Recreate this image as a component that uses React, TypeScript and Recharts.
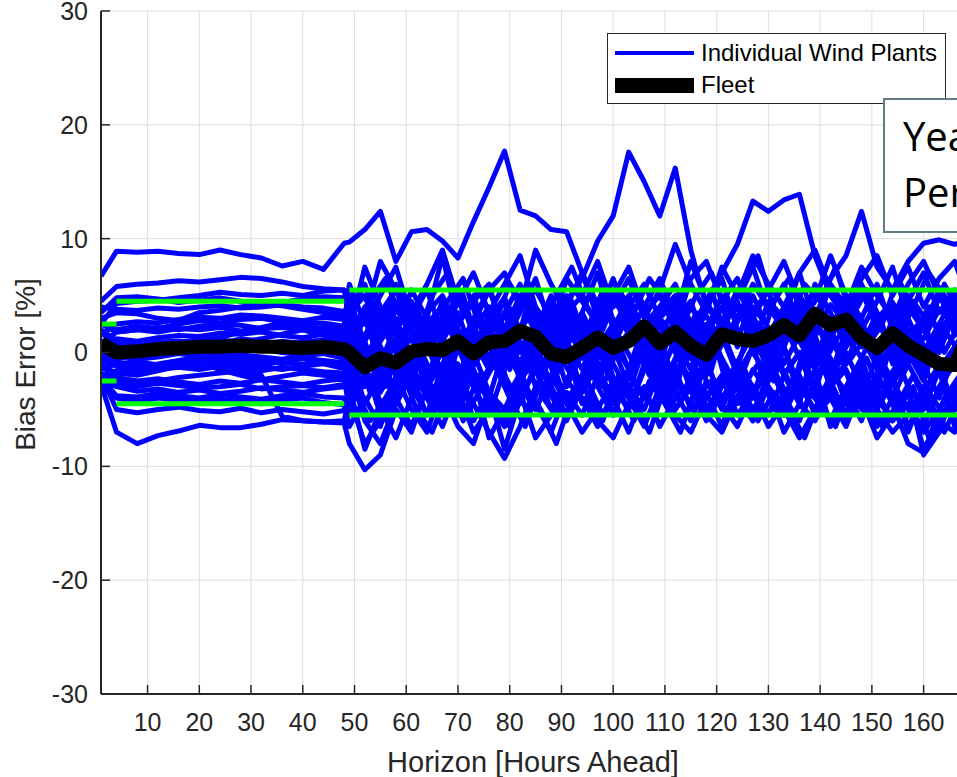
import { LineChart, Line, XAxis, YAxis, CartesianGrid, ReferenceLine, Legend, Label } from "recharts";

// Forecast horizons: 4-hourly over the day-ahead window, 3-hourly after that
const dayAheadHours = [1, 4, 8, 12, 16, 20, 24, 28, 32, 36, 40, 44, 48];
const intradayHours = [
  49, 52, 55, 58, 61, 64, 67, 70, 73, 76,
  79, 82, 85, 88, 91, 94, 97, 100, 103, 106,
  109, 112, 115, 118, 121, 124, 127, 130, 133, 136,
  139, 142, 145, 148, 151, 154, 157, 160, 163, 166, 168,
];
// some plants report on an offset intraday schedule
const intradayHoursOffset = [
  49, 50, 53, 56, 59, 62, 65, 68, 71, 74,
  77, 80, 83, 86, 89, 92, 95, 98, 101, 104,
  107, 110, 113, 116, 119, 122, 125, 128, 131, 134,
  137, 140, 143, 146, 149, 152, 155, 158, 161, 164,
  167, 168,
];
const hours = [...dayAheadHours, ...intradayHours];
const hoursOffset = [...dayAheadHours, ...intradayHoursOffset];

// Bias error (%) per wind plant, one row per plant: day-ahead values then intraday values
const plantBias: number[][] = [
  [6.7, 8.9, 8.8, 8.9, 8.7, 8.6, 9.0, 8.6, 8.3, 7.6, 8.0, 7.3, 9.6,
    9.7, 10.8, 12.4, 8.0, 10.6, 10.8, 9.8, 8.3, 11.5, 14.5, 17.7, 12.5, 12.0, 10.8, 10.6, 7.0, 4.2, 2.5, 3.8, 1.5,
    3.0, 4.5, 2.0, 3.2, 1.0, 2.8, 4.0, 2.2, 0.5, 3.6, 1.8, 4.2, 2.6, 0.8, 3.0, 4.4, 2.0, 1.2, 3.8, 2.4, 3.0],
  [-1.5, -0.5, -0.2, 0.1, 0.3, 0.2, 0.4, 0.5, 0.3, 0.6, 0.4, 0.2, 0.0,
    1.5, -2.0, 3.0, 0.5, -1.5, 2.5, 4.0, 1.0, -0.5, 3.5, 2.0, 5.0, 3.0, 1.0, 4.5, 6.5, 9.8, 12.0, 17.6, 15.0,
    12.0, 16.2, 9.0, 4.0, 2.5, 5.5, 3.0, 1.5, 4.0, 2.0, -1.0, 3.0, 1.5, -0.5, 2.5, 4.0, 1.0, -2.0, 2.0, 3.5, 1.0],
  [4.5, 5.8, 6.0, 6.1, 6.3, 6.2, 6.4, 6.6, 6.5, 6.2, 5.8, 5.6, 5.5,
    3.0, 6.0, 2.0, 4.5, 1.0, 3.5, 5.0, 2.0, 0.5, 3.0, 4.8, 2.0, 1.0, 4.0, 2.5, -0.5, 2.0, 4.5, 3.0, 1.0,
    3.5, 5.0, 2.0, 4.5, 7.0, 9.5, 13.3, 12.4, 13.4, 13.9, 8.5, 5.0, 3.0, 5.5, 2.0, 4.0, 1.5, 3.0, 5.0, 2.5, 3.0],
  [2.5, 4.3, 4.5, 4.6, 4.8, 5.0, 5.3, 5.1, 5.0, 5.2, 5.0, 5.4, 5.5,
    4.0, 1.0, 3.5, 5.5, 2.0, 0.0, 3.0, 4.5, 2.5, -1.0, 2.0, 4.0, 5.5, 3.0, 1.0, 3.5, 0.5, 2.5, 4.0, 6.0,
    3.0, 1.5, 4.0, 2.0, 5.0, 3.0, 6.0, 4.0, 2.0, 5.0, 3.0, 6.5, 8.5, 12.4, 7.5, 5.5, 8.0, 9.6, 9.9, 9.5, 9.8],
  [-2.8, -7.0, -8.0, -7.3, -6.9, -6.4, -6.6, -6.6, -6.3, -5.9, -6.0, -6.1, -6.2,
    -8.0, -10.3, -9.0, -5.0, -7.0, -3.0, -5.5, -2.0, -4.5, -7.0, -9.3, -6.5, -3.0, -5.0, -2.5, -4.0, -6.5, -3.5, -1.5, -4.0,
    -2.0, -5.0, -3.0, -6.0, -2.5, -4.5, -1.5, -3.5, -5.5, -2.5, -4.0, -6.0, -3.0, -5.0, -2.0, -4.5, -8.0, -8.8, -6.0, -3.5, -5.0],
  [-1.0, -2.5, -2.8, -2.5, -2.2, -2.0, -1.8, -1.6, -2.0, -5.6, -6.0, -6.1, -6.0,
    -4.0, -8.0, -6.0, -3.5, -1.0, -4.0, -6.5, -3.0, 0.0, -3.5, -5.0, -2.0, 1.0, -3.0, -5.5, -2.0, 0.5, -3.0, -5.0, -1.5,
    1.0, -2.5, -4.5, -1.0, 1.5, -2.0, -4.0, -1.0, 0.5, -3.0, -5.0, -2.0, 0.0, -3.0, -6.5, -4.0, -1.0, -3.5, -6.5, -4.0, -2.0],
  [4.0, 3.8, 3.7, 3.9, 3.8, 4.0, 4.1, 3.9, 4.0, 4.2, 4.0, 3.9, 3.6,
    2.0, 7.5, 4.0, 1.5, 5.5, 3.0, 8.5, 2.5, 4.5, 6.0, 1.0, 3.5, 6.5, 2.0, 4.0, 7.0, 3.0, 5.5, 1.5, 4.0,
    6.5, 3.0, 8.0, 4.5, 2.0, 5.0, 7.5, 3.5, 6.0, 2.5, 4.5, 8.5, 5.0, 3.0, 6.0, 2.0, 4.5, 7.0, 3.5, 5.5, 4.0],
  [1.5, 2.5, 2.7, 2.6, 2.9, 3.1, 3.0, 3.3, 3.2, 3.0, 2.8, 3.1, 2.9,
    0.5, 3.0, -1.0, 2.5, 4.5, 0.0, 2.0, 5.5, 1.5, -0.5, 3.5, 6.0, 2.0, 0.5, 4.0, 1.5, 3.0, 6.5, 2.5, 0.0,
    3.5, 5.0, 1.0, 4.0, 6.5, 2.0, 0.5, 4.5, 3.0, 7.0, 2.5, 1.0, 4.5, 6.0, 3.0, 0.5, 4.0, 2.0, 5.5, 1.5, 3.0],
  [2.5, 1.8, 2.0, 2.2, 2.0, 2.3, 2.5, 2.4, 2.1, 2.2, 2.0, 1.8, 1.5,
    3.5, 5.0, 1.0, 3.0, -0.5, 2.5, 4.0, 0.0, 3.0, 5.5, 2.0, -1.0, 2.5, 4.5, 0.5, 3.0, -0.5, 2.0, 5.0, 1.5,
    -1.0, 3.0, 4.5, 0.5, 2.0, -1.5, 3.5, 5.5, 1.0, 3.0, -0.5, 2.5, 4.0, 1.5, -1.0, 3.0, 5.0, 2.0, 0.0, 3.5, 2.5],
  [0.5, 1.2, 1.0, 1.3, 1.5, 1.4, 1.7, 1.6, 1.8, 1.5, 1.3, 1.6, 1.2,
    -1.0, 1.5, 4.0, 0.0, 2.0, -2.0, 1.0, 3.5, -0.5, 2.0, 4.5, 0.5, -1.5, 2.5, 5.0, 1.0, -2.0, 1.5, 3.0, -0.5,
    2.5, 0.0, -2.5, 1.5, 4.0, 0.5, 2.5, -1.0, 1.5, 4.5, 0.0, -2.0, 2.0, 0.5, 3.5, -1.0, 1.0, 3.0, -1.5, 0.5, 2.0],
  [1.0, 0.8, 0.6, 0.9, 1.0, 0.8, 1.1, 0.9, 0.7, 1.0, 0.8, 0.6, 0.9,
    2.5, -0.5, 2.0, 6.0, 3.0, 0.5, -2.0, 2.5, 5.0, 1.0, -1.0, 2.0, 4.0, -0.5, 1.5, 3.5, 7.0, 2.0, -1.5, 1.0,
    4.0, 6.0, 2.5, -0.5, 3.0, 1.0, 5.0, 2.0, -1.0, 1.5, 6.0, 3.5, 0.5, 2.0, 4.5, 7.5, 3.0, 0.0, 2.5, 5.0, 1.5],
  [-0.5, 0.0, -0.3, -0.1, 0.2, 0.0, -0.2, 0.1, 0.3, 0.0, -0.2, 0.1, -0.3,
    -2.5, 0.5, -3.0, -1.0, 1.5, -2.0, 0.0, -3.5, 1.0, -1.5, 2.0, -2.5, -0.5, 1.5, -3.0, 0.0, 2.5, -1.0, -3.5, 0.5,
    -2.0, 1.0, -1.5, 2.5, -0.5, -3.0, 0.5, 2.0, -2.0, 0.0, -3.5, 1.0, -1.0, 2.5, -0.5, -2.5, 1.5, -1.0, -4.0, 0.0, -2.0],
  [-1.5, -1.0, -0.8, -1.1, -0.9, -0.6, -0.8, -0.5, -0.7, -0.9, -1.0, -0.8, -1.2,
    0.0, -4.5, -2.0, 1.0, -3.0, -5.5, -1.0, 1.5, -2.5, -4.0, 0.5, -1.5, -5.0, -2.0, 1.0, -3.5, -1.0, -5.5, -2.0, 0.5,
    -4.0, -2.5, 0.0, -5.0, -3.0, -1.0, -6.0, -2.5, 0.5, -4.0, -1.5, -6.5, -3.0, -0.5, -4.5, -2.0, -7.0, -3.5, -1.0, -5.0, -3.0],
  [-2.0, -1.6, -1.8, -1.5, -1.3, -1.5, -1.2, -1.4, -1.6, -1.3, -1.5, -1.7, -1.8,
    -3.5, -1.0, -5.5, -3.0, 0.0, -2.5, -4.5, -1.0, -6.0, -3.5, -8.5, -4.0, -1.5, -5.0, -2.5, 0.5, -3.0, -5.5, -2.0, -4.0,
    -0.5, -3.5, -6.0, -2.5, -4.5, -1.0, -3.0, -5.5, -2.0, 0.0, -4.0, -2.5, -5.5, -1.5, -3.5, -6.0, -3.0, -5.0, -1.5, -6.5, -4.0],
  [-1.0, -2.2, -2.5, -2.3, -2.6, -2.8, -2.5, -2.7, -2.4, -2.6, -2.8, -2.5, -2.3,
    -5.0, -2.0, 0.5, -4.0, -6.5, -3.0, -1.0, -4.5, -2.0, -7.5, -5.0, -2.5, 0.0, -3.5, -6.0, -3.0, -1.5, -4.0, -7.0, -3.5,
    -1.0, -5.0, -3.0, -0.5, -4.5, -6.5, -3.5, -1.0, -4.0, -6.0, -2.5, -0.5, -4.5, -2.0, -5.0, -2.5, -6.5, -4.0, -7.0, -3.0, -5.5],
  [-2.5, -3.0, -3.4, -3.2, -3.5, -3.3, -3.6, -3.4, -3.1, -3.3, -3.5, -3.2, -3.0,
    -1.5, -6.0, -8.0, -4.5, -2.0, -5.5, -3.5, -6.5, -8.0, -4.0, -6.0, -2.5, -4.5, -7.0, -3.5, -5.5, -2.0, -4.5, -3.0, -6.0,
    -4.0, -1.5, -5.0, -3.5, -6.5, -2.5, -5.0, -3.0, -7.0, -4.5, -6.0, -3.5, -5.5, -2.5, -4.0, -6.0, -4.5, -7.0, -5.0, -3.0, -6.5],
  [-3.0, -4.0, -4.3, -4.0, -4.2, -4.4, -4.1, -4.3, -4.5, -4.2, -4.0, -4.4, -4.6,
    -6.5, -4.0, -6.5, -2.0, -5.0, -7.0, -3.0, -5.5, -1.5, -4.5, -6.5, -3.0, -5.0, -2.0, -4.5, -7.0, -5.0, -2.5, -4.0, -6.5,
    -3.0, -5.5, -7.0, -4.0, -2.0, -5.5, -3.5, -6.5, -4.5, -2.0, -5.5, -4.0, -6.5, -3.0, -5.0, -7.0, -5.5, -3.0, -6.0, -4.5, -6.0],
  [-2.0, -5.0, -5.3, -5.0, -4.8, -5.1, -5.2, -4.9, -5.3, -5.0, -5.2, -5.4, -5.1,
    -3.0, -8.5, -5.0, -7.5, -4.0, -2.0, -5.5, -3.5, -7.0, -5.0, -6.0, -3.5, -7.5, -5.5, -4.0, -2.5, -6.0, -7.5, -4.5, -3.0,
    -6.5, -4.0, -2.5, -5.5, -7.0, -4.0, -6.0, -3.0, -5.0, -7.5, -5.0, -3.0, -6.0, -4.0, -7.5, -5.5, -3.5, -8.5, -6.0, -7.0, -5.5],
  [3.0, 3.5, 3.4, 3.0, 2.8, 3.5, 3.7, 4.0, 4.3, 4.1, 3.8, 3.5, 3.2,
    5.0, 3.0, 8.0, 5.5, 3.5, 6.0, 9.0, 4.5, 2.5, 5.5, 7.0, 4.0, 9.0, 6.0, 3.5, 5.0, 8.0, 4.0, 6.5, 3.0,
    5.5, 9.5, 6.0, 3.5, 7.5, 5.0, 8.5, 6.0, 4.0, 7.0, 9.0, 5.5, 3.5, 6.5, 8.5, 5.0, 7.5, 4.0, 6.5, 8.0, 5.5],
  [0.0, 2.0, 2.3, 2.1, 2.5, 2.8, 2.6, 2.9, 3.0, 2.7, 2.5, 2.6, 2.3,
    6.0, 2.5, 5.0, 7.5, 3.0, 5.5, 1.5, 4.5, 7.0, 3.5, 6.0, 8.5, 4.0, 2.0, 6.5, 4.5, 2.5, 5.0, 7.5, 3.5,
    5.0, 2.0, 6.5, 8.0, 4.5, 6.5, 3.0, 5.5, 8.0, 4.5, 2.0, 6.0, 4.0, 7.5, 5.0, 3.0, 6.0, 8.0, 5.0, 3.0, 6.0],
  [-0.8, -0.5, -0.3, 0.0, 0.4, 0.7, 0.6, 0.9, 1.2, 1.6, 2.0, 1.5, 1.0,
    1.5, 4.0, 0.5, -2.0, 3.0, 1.0, 4.5, 2.0, -1.0, 1.5, 3.5, 0.0, 2.0, 5.0, 1.0, -1.5, 2.0, 0.5, 3.5, -1.0,
    1.5, 4.0, 0.5, -2.0, 2.5, 4.0, 1.0, -0.5, 3.5, 1.0, -1.5, 2.0, 5.0, 1.5, -0.5, 2.5, 0.0, -2.5, 1.5, 4.0, 0.5],
  [-1.2, -1.8, -2.0, -1.6, -1.2, -0.9, -1.5, -2.0, -2.4, -2.1, -1.8, -2.0, -2.2,
    -0.5, -3.0, -1.0, -4.5, -2.0, 0.5, -2.5, -4.0, -0.5, 1.0, -2.0, -4.5, -1.0, -3.0, 0.0, -4.5, -2.5, 0.5, -3.0, -5.0,
    -1.5, 1.0, -3.5, -1.0, -4.0, -2.0, 0.5, -3.5, -5.5, -1.5, 0.5, -3.0, -1.5, -4.5, 0.0, -2.5, -5.0, -6.5, -3.0, -1.0, -2.5],
  [0.3, -0.8, -1.2, -1.0, -0.7, -0.4, -0.6, -0.9, -1.1, -0.8, -0.5, -0.7, -0.9,
    1.0, -2.0, 2.5, 0.0, -1.5, 3.0, 0.5, -2.5, 2.0, 4.0, 0.0, -2.0, 1.5, -1.0, 3.5, 0.5, -3.0, 1.0, -1.5, 2.5,
    0.0, -3.5, 1.5, -1.0, 2.0, 4.5, 0.0, -2.0, 2.5, -0.5, 1.5, -2.5, 0.5, 3.0, -1.5, 1.0, -1.0, 2.5, -2.0, -0.5, 1.0],
  [2.0, 1.0, 0.5, 0.6, 0.8, 1.0, 1.3, 1.8, 2.2, 2.6, 2.4, 2.0, 1.8,
    -2.0, 1.0, -3.5, -1.0, 2.0, -4.0, -2.0, 0.5, -3.0, -5.5, -1.5, 1.0, -3.0, -0.5, -4.5, -2.0, 1.5, -2.5, -5.0, -1.0,
    -3.5, -0.5, 2.0, -2.5, -5.0, -1.5, -4.0, 0.5, -2.0, -4.5, 1.0, -1.5, -3.5, -6.0, -2.0, 0.5, -3.0, -9.0, -7.0, -3.0, -1.0],
];

// Plants on the offset schedule: day-ahead values then offset intraday values
const plantBiasOffset: number[][] = [
  [1.8, 0.5, 0.3, 0.6, 0.9, 1.1, 0.8, 1.2, 1.0, 0.7, 0.9, 1.1, 0.8,
    0.5, 3.5, -1.0, 2.0, 4.5, 1.0, -2.0, 3.0, 5.0, 0.5, 2.5, -1.5, 3.5, 1.0, 4.0, -0.5, 2.0, 5.5, 1.5, -1.0,
    3.0, 4.5, 0.0, 2.5, -1.5, 3.5, 6.0, 2.0, 0.0, 4.0, 1.5, -1.0, 3.0, 5.0, 0.5, 2.5, -1.5, 1.5, 4.0, 0.0, 2.5, 1.0],
  [-0.3, -1.2, -1.4, -1.3, -1.0, -1.2, -0.9, -1.1, -1.3, -1.5, -1.2, -1.0, -1.4,
    -2.0, 1.0, -3.5, -0.5, 2.0, -2.5, -4.5, -1.0, 1.5, -3.0, -0.5, -4.0, -1.5, 1.0, -2.5, -5.0, -2.0, 0.5, -3.5, -1.0,
    1.5, -2.0, -4.5, -0.5, 2.0, -3.0, -1.0, -4.5, 0.0, -2.5, -5.0, -1.5, 1.0, -3.0, -0.5, -4.0, -2.0, 0.5, -3.5, -5.5, -2.0, -3.0],
  [3.5, 4.8, 4.9, 4.7, 4.4, 4.6, 4.8, 4.5, 4.2, 4.4, 4.7, 4.9, 4.8,
    5.5, 2.0, 4.5, 6.5, 3.0, 1.0, 5.0, 7.0, 3.5, 5.5, 2.5, 6.0, 4.0, 1.5, 5.0, 7.5, 4.0, 2.0, 5.5, 3.5,
    6.5, 4.5, 2.0, 5.0, 7.0, 3.5, 5.5, 8.5, 4.0, 2.5, 6.0, 4.5, 7.5, 3.0, 5.5, 2.5, 6.5, 4.0, 7.0, 5.0, 3.0, 4.5],
  [-2.2, -3.8, -3.9, -3.6, -3.8, -4.0, -3.7, -3.9, -4.1, -3.8, -3.6, -3.9, -4.0,
    -5.5, -3.0, -6.0, -4.0, -1.5, -5.0, -7.0, -3.5, -5.5, -2.0, -4.5, -6.5, -3.0, -5.0, -8.0, -4.0, -2.5, -5.5, -3.5, -6.0,
    -2.5, -4.5, -7.0, -3.0, -5.5, -1.5, -4.0, -6.0, -3.5, -5.0, -7.5, -4.0, -2.0, -5.5, -3.0, -6.5, -4.5, -2.0, -5.0, -7.0, -4.0, -5.5],
  [0.8, 1.8, 2.0, 1.8, 2.1, 2.0, 2.2, 1.9, 2.1, 2.3, 2.0, 2.2, 2.1,
    3.0, 0.5, 5.0, 2.0, -0.5, 3.5, 1.0, 4.5, 6.5, 2.5, 0.0, 3.0, 5.5, 2.0, -1.0, 3.5, 1.5, 4.5, 2.0, 6.0,
    3.0, 0.5, 4.0, 2.0, 5.5, 1.0, 3.5, 0.0, 4.5, 6.5, 2.5, 4.0, 1.0, 3.0, 5.5, 2.0, 0.0, 4.5, 2.5, 6.0, 3.5, 2.0],
  [-1.8, -2.8, -3.0, -2.7, -2.9, -3.1, -3.0, -2.8, -3.2, -3.0, -2.9, -3.1, -2.8,
    -1.0, -4.0, -2.0, -5.5, -3.0, -0.5, -4.5, -2.5, -6.0, -3.5, -1.0, -4.0, -6.5, -2.5, -4.5, -1.5, -3.5, -6.0, -2.0, -4.5,
    -7.0, -3.0, -1.0, -4.0, -2.5, -5.5, -3.0, -1.0, -5.0, -3.0, -0.5, -4.5, -6.5, -2.5, -4.0, -1.5, -5.0, -3.0, -7.5, -4.0, -2.0, -3.5],
  [0.0, 0.4, 0.2, 0.5, 0.7, 0.4, 0.3, 0.6, 0.8, 0.5, 0.3, 0.6, 0.4,
    1.0, -1.5, 2.5, -0.5, 1.5, 4.0, 0.0, -2.5, 2.0, 0.5, 3.5, -1.0, 1.0, -2.0, 2.5, 4.5, 0.5, -1.5, 3.0, 1.0,
    -2.0, 2.0, 0.0, 3.5, -1.0, 1.5, 4.0, 0.5, -2.5, 2.0, 3.5, 0.0, -1.5, 2.5, 0.5, -2.0, 3.0, 1.0, -1.0, 2.0, 0.0, 1.5],
  [-0.9, -0.2, -0.6, -0.4, -0.1, -0.3, -0.5, -0.2, -0.4, -0.6, -0.3, -0.1, -0.5,
    -1.5, 2.0, -0.5, -3.0, 1.0, -1.5, 3.0, 0.5, -2.5, -0.5, 1.5, -3.5, -1.0, 2.5, 0.0, -2.0, 1.0, -3.0, 0.5, 2.5,
    -1.5, -3.5, 0.5, -1.0, 2.0, -2.5, 0.0, 2.5, -1.5, -4.0, 0.5, 2.0, -2.0, -0.5, 1.5, -3.0, -1.0, 2.0, 0.0, -2.5, 1.0, -1.0],
];

// Fleet-wide bias error (%)
const fleetBias = [
  0.8, 0.0, 0.1, 0.3, 0.4, 0.5, 0.5, 0.6, 0.5, 0.5, 0.4, 0.5, 0.3,
  0.0, -1.3, -0.5, -0.9, 0.1, 0.3, 0.2, 1.0, -0.1, 0.9, 1.0, 1.9, 1.4, -0.1, -0.4, 0.4, 1.3, 0.4, 1.0, 2.3,
  0.8, 1.8, 0.6, -0.2, 1.6, 1.2, 1.0, 1.5, 2.4, 1.5, 3.4, 2.4, 2.9, 1.3, 0.4, 1.7, 0.6, -0.2, -1.0, -1.1, 0.9,
];

// Acceptable bias band (+/- %), per horizon range
const biasBands = [
  { from: 1, to: 4, limit: 2.5 },
  { from: 4, to: 48, limit: 4.5 },
  { from: 49, to: 168, limit: 5.5 },
];

const xTicks = [10, 20, 30, 40, 50, 60, 70, 80, 90, 100, 110, 120, 130, 140, 150, 160];
const yTicks = [-30, -20, -10, 0, 10, 20, 30];

const legendItems = [
  { label: "Individual Wind Plants", color: "#0000ff", thickness: 4.5 },
  { label: "Fleet", color: "#000000", thickness: 15 },
];

const noteLines = ["Year", "Period"];

const FONT = '"Liberation Sans", Arial, Helvetica, sans-serif';
const AXIS = "#262626";
const PLANT_BLUE = "#0000ff";
const TICK_LEN = 9;
const X_GAP = 19;
const Y_GAP = 13;

const toPoints = (values: number[], xs: number[]) => values.map((v, i) => ({ hour: xs[i], value: v }));

const plantSeries = [
  ...plantBias.map((v) => toPoints(v, hours)),
  ...plantBiasOffset.map((v) => toPoints(v, hoursOffset)),
];

const BottomTick = ({ x, y, payload }: any) => (
  <g>
    <line x1={x} x2={x} y1={y - X_GAP} y2={y - X_GAP - TICK_LEN} stroke={AXIS} strokeWidth={1.5} />
    <text x={x} y={y} dy="0.71em" textAnchor="middle" fill={AXIS} fontSize={25} fontFamily={FONT}>
      {payload.value}
    </text>
  </g>
);

const TopTick = ({ x, y }: any) => (
  <line x1={x} x2={x} y1={y} y2={y + TICK_LEN} stroke={AXIS} strokeWidth={1.5} />
);

const LeftTick = ({ x, y, payload }: any) => (
  <g>
    <line x1={x + Y_GAP} x2={x + Y_GAP + TICK_LEN} y1={y} y2={y} stroke={AXIS} strokeWidth={1.5} />
    <text x={x} y={y} dy="0.355em" textAnchor="end" fill={AXIS} fontSize={25} fontFamily={FONT}>
      {payload.value}
    </text>
  </g>
);

const YTitle = ({ viewBox }: any) => {
  const cx = viewBox.x + 35;
  const cy = viewBox.y + viewBox.height / 2 + 12;
  return (
    <text x={cx} y={cy} transform={`rotate(-90 ${cx} ${cy})`} textAnchor="middle" fill={AXIS} fontSize={28} fontFamily={FONT}>
      Bias Error [%]
    </text>
  );
};

const LegendBox = () => (
  <div
    style={{
      position: "relative",
      width: 339,
      height: 71,
      boxSizing: "border-box",
      border: `1.5px solid ${AXIS}`,
      background: "#fff",
      fontFamily: FONT,
      fontSize: 24,
      color: "#000",
    }}
  >
    {legendItems.map((item, i) => (
      <div
        key={item.label}
        style={{ position: "absolute", left: 7, top: 5 + i * 32, height: 28, display: "flex", alignItems: "center" }}
      >
        <span style={{ display: "inline-block", width: 79, height: item.thickness, background: item.color }} />
        <span style={{ marginLeft: 7, whiteSpace: "nowrap" }}>{item.label}</span>
      </div>
    ))}
  </div>
);

export default function App() {
  return (
    <div style={{ position: "absolute", left: 0, top: 0, width: 957, height: 777, overflow: "hidden", background: "#fff" }}>
      <LineChart width={1000} height={777} margin={{ top: 11, right: 35, bottom: 0, left: 0 }}>
        <CartesianGrid stroke="#dedede" strokeWidth={1} />
        <XAxis
          dataKey="hour"
          type="number"
          domain={[1, 168]}
          ticks={xTicks}
          interval={0}
          allowDataOverflow
          height={83}
          tickSize={0}
          tickMargin={X_GAP}
          tickLine={false}
          tick={(p: any) => <BottomTick {...p} />}
          axisLine={{ stroke: AXIS, strokeWidth: 2 }}
        >
          <Label value="Horizon [Hours Ahead]" position="insideBottom" offset={5} fill={AXIS} fontSize={29} fontFamily={FONT} />
        </XAxis>
        <XAxis
          xAxisId="top"
          orientation="top"
          type="number"
          domain={[1, 168]}
          ticks={xTicks}
          interval={0}
          allowDataOverflow
          height={0}
          tickSize={0}
          tickMargin={0}
          tickLine={false}
          tick={(p: any) => <TopTick {...p} />}
          axisLine={{ stroke: AXIS, strokeWidth: 2 }}
        />
        <YAxis
          type="number"
          domain={[-30, 30]}
          ticks={yTicks}
          interval={0}
          allowDataOverflow
          width={101}
          tickSize={0}
          tickMargin={Y_GAP}
          tickLine={false}
          tick={(p: any) => <LeftTick {...p} />}
          axisLine={{ stroke: AXIS, strokeWidth: 2 }}
        >
          <Label content={(p: any) => <YTitle {...p} />} />
        </YAxis>
        <Legend
          layout="horizontal"
          verticalAlign="middle"
          align="center"
          wrapperStyle={{ left: 607, top: 33 }}
          content={() => <LegendBox />}
        />
        {plantSeries.map((points, i) => (
          <Line
            key={`plant-${i}`}
            data={points}
            dataKey="value"
            type="linear"
            stroke={PLANT_BLUE}
            strokeWidth={5}
            strokeLinejoin="round"
            dot={false}
            activeDot={false}
            legendType="none"
            isAnimationActive={false}
          />
        ))}
        {biasBands.flatMap((b) =>
          [b.limit, -b.limit].map((level) => (
            <ReferenceLine
              key={`${b.from}-${level}`}
              segment={[{ x: b.from, y: level }, { x: b.to, y: level }]}
              stroke="#00ff00"
              strokeWidth={5}
            />
          ))
        )}
        <Line
          data={toPoints(fleetBias, hours)}
          dataKey="value"
          type="linear"
          stroke="#000000"
          strokeWidth={14}
          strokeLinejoin="round"
          dot={false}
          activeDot={false}
          legendType="none"
          isAnimationActive={false}
        />
      </LineChart>
      <div
        style={{
          position: "absolute",
          left: 883,
          top: 98,
          width: 220,
          height: 135,
          boxSizing: "border-box",
          border: "2px solid #627b82",
          background: "#fff",
          padding: "8px 0 0 18px",
          fontFamily: '"Open Sans", sans-serif',
          fontSize: 40,
          lineHeight: "56px",
          color: "#000",
          whiteSpace: "nowrap",
        }}
      >
        {noteLines.map((t) => (
          <div key={t}>{t}</div>
        ))}
      </div>
    </div>
  );
}
